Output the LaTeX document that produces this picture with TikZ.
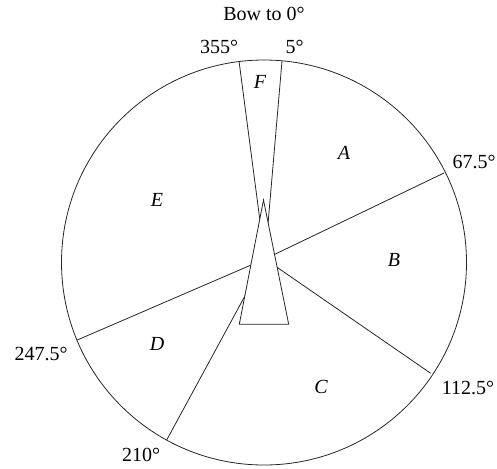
\documentclass[tikz,border=0pt]{standalone}
\usepackage{fontspec}
\setmainfont{Liberation Serif}
\begin{document}
\begin{tikzpicture}[x=1pt,y=-1pt,
  edge/.style={draw=black!85,line width=0.8pt},
  lbl/.style={font=\fontsize{20}{23}\selectfont,inner sep=0pt},
  sect/.style={font=\fontsize{20}{23}\selectfont\itshape,inner sep=0pt}]
\useasboundingbox (0,0) rectangle (497,468);
% centre of the circle and hub of the radial lines
\coordinate (C) at (264,262.5);
\coordinate (O) at (265,259);
% points on the circle
\coordinate (p355) at (239,61);
\coordinate (p5) at (282,61);
\coordinate (p675) at (444,173);
\coordinate (p1125) at (430.7,373.3);
\coordinate (p2475) at (77.3,340);
\coordinate (p210) at (166.7,440);
% circle
\draw[edge] (C) circle (202.5pt);
% radial lines
\draw[edge] (O) -- (p355);
\draw[edge] (O) -- (p5);
\draw[edge] (O) -- (p675);
\draw[edge] (O) -- (p1125);
\draw[edge] (O) -- (p2475);
\draw[edge] (O) -- (p210);
% ship triangle
\coordinate (tA) at (263.5,200);
\coordinate (tL) at (239.3,324.3);
\coordinate (tR) at (288.7,324.3);
\filldraw[edge,fill=white] (tA) -- (tL) -- (tR) -- cycle;
% labels
\node[lbl] (bow) at (264,14) {Bow to 0°};
\node[lbl] (l355) at (219,47) {355°};
\node[lbl] (l5) at (294.5,47) {5°};
\node[lbl] (l675) at (474,162) {67.5°};
\node[lbl] (l1125) at (468,388) {112.5°};
\node[lbl] (l2475) at (41,354) {247.5°};
\node[lbl] (l210) at (141,455) {210°};
% sectors
\node[sect] (sF) at (260,82) {F};
\node[sect] (sA) at (344,153) {A};
\node[sect] (sB) at (394,260) {B};
\node[sect] (sC) at (321,387) {C};
\node[sect] (sD) at (157,344) {D};
\node[sect] (sE) at (157,200) {E};
\end{tikzpicture}
\end{document}
